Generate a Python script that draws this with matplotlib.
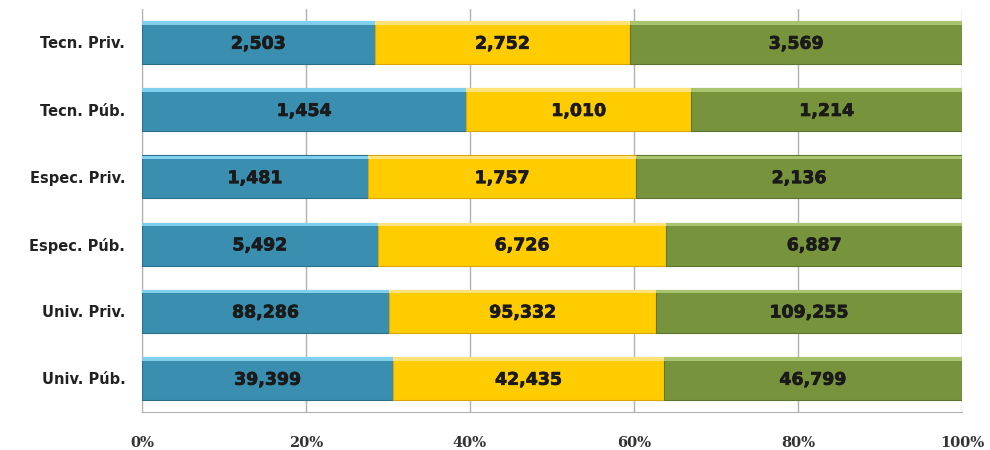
import numpy as np
import matplotlib.pyplot as plt
import matplotlib.patheffects as pe

categories = ['Univ. Púb.', 'Univ. Priv.', 'Espec. Púb.', 'Espec. Priv.', 'Tecn. Púb.', 'Tecn. Priv.']
serie1 = [39399, 88286, 5492, 1481, 1454, 2503]
serie2 = [42435, 95332, 6726, 1757, 1010, 2752]
serie3 = [46799, 109255, 6887, 2136, 1214, 3569]

colors = ['#3a8eb0', '#ffcc00', '#77933c']
highlights = ['#7fd0ee', '#ffe27a', '#a9c46e']
edges = ['#2c6f8a', '#d9a800', '#5d7530']

fig = plt.figure(figsize=(9.9, 4.5), dpi=100)
ax = fig.add_axes([0.1434, 0.0844, 0.8283, 0.896])

data = np.array([serie1, serie2, serie3], dtype=float)
totals = data.sum(axis=0)
pct = data / totals * 100
y = np.arange(len(categories))
h = 0.64

left = np.zeros(len(categories))
for i in range(3):
    ax.barh(y, pct[i], left=left, height=h, color=colors[i],
            edgecolor=edges[i], linewidth=0.8, zorder=3)
    # thin light strip on top of the bars
    ax.barh(y + h / 2 - 0.03, pct[i], left=left, height=0.05,
            color=highlights[i], linewidth=0, zorder=4)
    for j in range(len(categories)):
        ax.text(left[j] + pct[i][j] / 2, y[j] - 0.02, f'{int(data[i][j]):,}',
                ha='center', va='center', fontsize=12.5, fontweight='bold',
                color='#1a1a1a', zorder=5,
                path_effects=[pe.withStroke(linewidth=0.5, foreground='#1a1a1a')])
    left += pct[i]

ax.set_xlim(0, 100)
ax.set_ylim(-0.5, len(categories) - 0.5)
ax.set_xticks(range(0, 101, 20))
ax.set_xticklabels([f'{v}%' for v in range(0, 101, 20)], fontsize=10.5,
                   fontweight='bold', color='#333333', family='DejaVu Serif')
ax.set_yticks(y)
ax.set_yticklabels(categories, fontsize=10.5, fontweight='bold', color='#222222')
ax.tick_params(axis='both', length=0)
ax.tick_params(axis='x', pad=17)
ax.tick_params(axis='y', pad=12)
ax.grid(axis='x', color='#b0b0b0', linewidth=1, zorder=0)
for s in ['top', 'right']:
    ax.spines[s].set_visible(False)
for s in ['left', 'bottom']:
    ax.spines[s].set_color('#b0b0b0')

fig.savefig('out.png', dpi=100)
